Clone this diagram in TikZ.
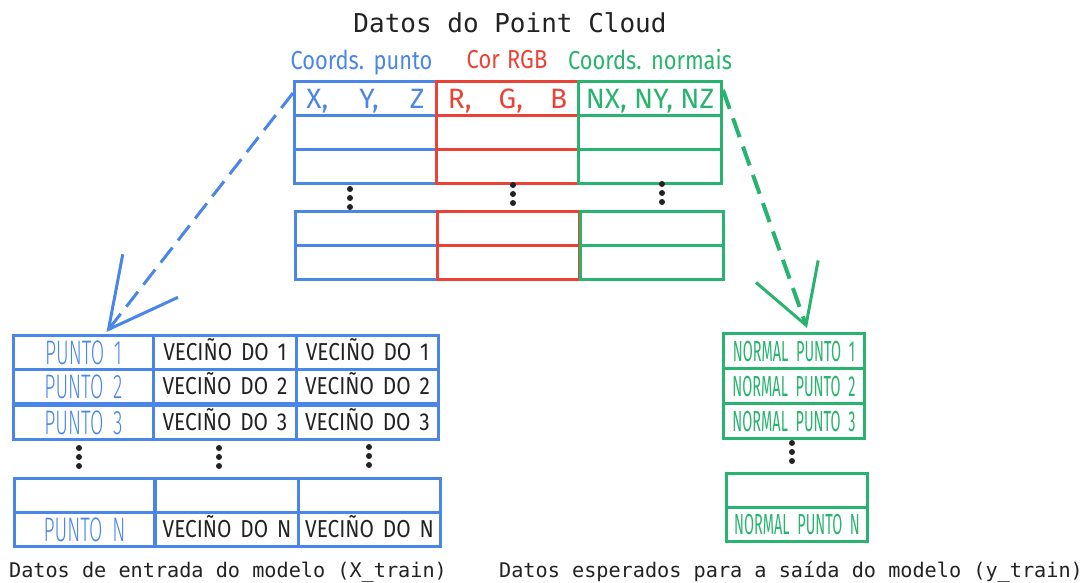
\documentclass[tikz,border=0pt]{standalone}
\usepackage{fontspec}
\usetikzlibrary{arrows.meta}
\newfontfamily\dmono{DejaVu Sans Mono}
\newfontfamily\dsans{Fira Sans}
\newfontfamily\dlabel[FakeStretch=0.84,WordSpace=1.3]{Fira Sans}
\newfontfamily\dpunto[FakeStretch=0.57,WordSpace=1.8,UprightFont={* Light}]{Fira Sans}
\newfontfamily\dvec[FakeStretch=0.85,WordSpace=1.6]{Fira Sans}
\newfontfamily\dnorm[FakeStretch=0.5,WordSpace=2.0]{Fira Sans}
\definecolor{cblue}{RGB}{74,134,232}
\definecolor{cred}{RGB}{234,67,53}
\definecolor{cgreen}{RGB}{40,180,110}
\definecolor{ctext}{RGB}{34,34,34}
\tikzset{
  cell/.style={draw, line width=3pt, inner sep=0pt, anchor=north west},
  bcell/.style={cell, draw=cblue},
  rcell/.style={cell, draw=cred},
  gcell/.style={cell, draw=cgreen},
  hdrtext/.style={font=\dsans\fontsize{28}{30}\selectfont, text height=19.3pt, text depth=0pt},
  puntotext/.style={text=cblue, font=\dpunto\fontsize{34}{36}\selectfont, text height=23.4pt, text depth=0pt},
  vectext/.style={text=ctext, font=\dvec\fontsize{24.5}{26}\selectfont, text height=16.9pt, text depth=0pt},
  normtext/.style={text=cgreen, font=\dnorm\fontsize{29}{30}\selectfont, text height=20pt, text depth=0pt},
  collabel/.style={font=\dlabel\fontsize{26}{28}\selectfont, anchor=base, inner sep=0pt},
  captext/.style={font=\dmono\fontsize{20.2}{24}\selectfont, text=ctext, anchor=base, inner sep=0pt},
  vdots/.pic={\foreach \d in {0,9,18} \fill[ctext] (0,\d) circle (3pt);},
}
\begin{document}
\begin{tikzpicture}[x=1pt, y=-1pt]
\useasboundingbox (0,0) rectangle (1082,582);

% title and column headings
\node[captext, font=\dmono\fontsize{26}{30}\selectfont] (title) at (510,32) {Datos do Point Cloud};
\node[collabel, text=cblue] (lblB) at (361.5,69) {Coords. punto};
\node[collabel, text=cred] (lblR) at (507,68) {Cor RGB};
\node[collabel, text=cgreen] (lblG) at (650,69) {Coords. normais};

% point cloud table
\node[bcell, hdrtext, text=cblue, minimum width=142pt, minimum height=34pt] (hB) at (293,80) {X,\hspace{31pt}Y,\hspace{31pt}Z};
\node[rcell, hdrtext, text=cred, minimum width=142pt, minimum height=34pt] (hR) at (435,80) {R,\hspace{27pt}G,\hspace{27pt}B};
\node[gcell, hdrtext, text=cgreen, minimum width=143pt, minimum height=34pt] (hG) at (577,80) {NX, NY, NZ};
\foreach \r/\y in {2/114, 3/148} {
  \node[bcell, minimum width=142pt, minimum height=34pt] (b\r) at (293,\y) {};
  \node[rcell, minimum width=142pt, minimum height=34pt] (r\r) at (435,\y) {};
  \node[gcell, minimum width=143pt, minimum height=34pt] (g\r) at (577,\y) {};
}
\foreach \r/\y in {4/210, 5/244} {
  \node[bcell, minimum width=142pt, minimum height=34pt] (b\r) at (294,\y) {};
  \node[rcell, minimum width=142pt, minimum height=34pt] (r\r) at (436,\y) {};
  \node[gcell, minimum width=143pt, minimum height=34pt] (g\r) at (579,\y) {};
}
\pic at (350,189) {vdots};
\pic at (513,185) {vdots};
\pic at (662,184) {vdots};

% model input table
\foreach \r/\y/\t in {1/334/1, 2/368/2, 3/404/3} {
  \node[bcell, puntotext, minimum width=140pt, minimum height=34pt] (p\r) at (12,\y) {PUNTO \t};
  \node[bcell, vectext, minimum width=143pt, minimum height=34pt] (va\r) at (152,\y) {VECIÑO DO \t};
  \node[bcell, vectext, minimum width=142pt, minimum height=34pt] (vb\r) at (295,\y) {VECIÑO DO \t};
}
\node[bcell, minimum width=140pt, minimum height=34pt] (p4) at (13,477) {};
\node[bcell, minimum width=143pt, minimum height=34pt] (va4) at (154,477) {};
\node[bcell, minimum width=142pt, minimum height=34pt] (vb4) at (297,477) {};
\node[bcell, puntotext, minimum width=140pt, minimum height=34pt] (p5) at (13,511) {PUNTO N};
\node[bcell, vectext, minimum width=143pt, minimum height=34pt] (va5) at (154,511) {VECIÑO DO N};
\node[bcell, vectext, minimum width=142pt, minimum height=34pt] (vb5) at (297,511) {VECIÑO DO N};
\pic at (79,448) {vdots};
\pic at (219,448) {vdots};
\pic at (369,447) {vdots};

% expected output table
\foreach \r/\y in {1/332, 2/367, 3/402} {
  \node[gcell, normtext, minimum width=141pt, minimum height=35pt] (q\r) at (722,\y) {NORMAL PUNTO \r};
}
\node[gcell, minimum width=141pt, minimum height=34pt] (q4) at (725,472) {};
\node[gcell, normtext, minimum width=141pt, minimum height=34pt] (q5) at (725,506) {NORMAL PUNTO N};
\pic at (792,443) {vdots};

% connectors
\coordinate (bstart) at ([yshift=-13pt]hB.north west);
\coordinate (bapex) at ([xshift=23pt,yshift=2pt]p1.north);
\draw[cblue, line width=3pt, dash pattern=on 19pt off 9pt,
      -{Straight Barb[length=68pt,width=70pt]}] (bstart) -- (bapex);
\coordinate (gstart) at ([yshift=-10pt]hG.north east);
\coordinate (gapex) at ([xshift=13pt,yshift=4pt]q1.north);
\draw[cgreen, line width=4pt, dash pattern=on 20pt off 10pt,
      -{Straight Barb[length=57pt,width=66pt,line width=3pt]}] (gstart) -- (gapex);

% captions
\node[captext] (capin) at (228,577) {Datos de entrada do modelo (X\_train)};
\node[captext] (capout) at (791,577) {Datos esperados para a saída do modelo (y\_train)};
\end{tikzpicture}
\end{document}
